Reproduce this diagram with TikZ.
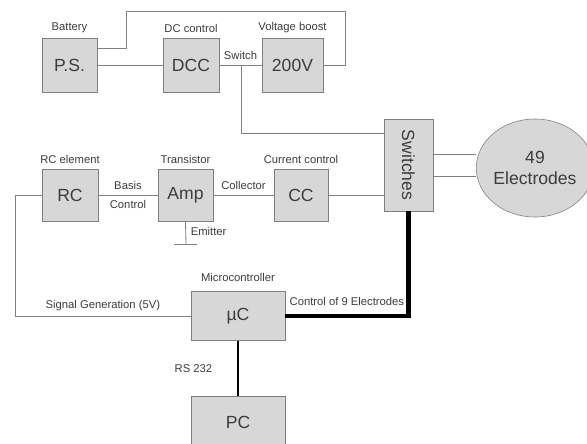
\documentclass[tikz,border=0pt]{standalone}
\usepackage{fontspec}
\setmainfont{Liberation Sans}
\usetikzlibrary{positioning, shapes.geometric}
\definecolor{boxgray}{HTML}{D7D7D7}
\definecolor{linegray}{HTML}{7F7F7F}
\definecolor{textgray}{HTML}{3C3C3C}

\begin{document}
\begin{tikzpicture}[x=0.025cm, y=-0.025cm,
    block/.style={draw=linegray, fill=boxgray, text=textgray, inner sep=0pt,
        font=\fontsize{12.5}{15}\selectfont},
    tag/.style={text=textgray, font=\fontsize{8}{10}\selectfont},
    wire/.style={draw=linegray, line width=0.6pt},
    bus/.style={draw=black, line width=3.5pt},
    serial/.style={draw=black, line width=2pt}]

    % Frame of the picture
    \useasboundingbox (0,0) rectangle (587,443);

    % Power supply row
    \node[block, minimum width=1.375cm, minimum height=1.35cm,
        label={[tag]above:Battery}] (ps) at (69.5,65) {P.S.};
    \node[block, minimum width=1.4cm, minimum height=1.35cm,
        label={[tag]above:DC control}] (dcc) at (191,65) {DCC};
    \node[block, minimum width=1.525cm, minimum height=1.35cm,
        label={[tag]above:Voltage boost}] (boost) at (292.5,65) {200V};

    % Driver row
    \node[block, minimum width=1.4cm, minimum height=1.3cm,
        label={[tag]above:RC element}] (rc) at (70,195) {RC};
    \node[block, minimum width=1.375cm, minimum height=1.3cm,
        label={[tag]above:Transistor}] (amp) at (185.5,195) {Amp};
    \node[block, minimum width=1.35cm, minimum height=1.3cm,
        label={[tag]above:Current control}] (cc) at (301,195) {CC};

    % Switches and electrodes
    \node[block, minimum width=1.225cm, minimum height=2.3cm] (sw) at (408.5,165) {\rotatebox{-90}{Switches}};
    \node[block, ellipse, align=center, minimum width=2.6cm, minimum height=2.45cm] (elec) at (535,168) {49\\Electrodes};

    % Microcontroller and PC
    \node[block, minimum width=2.35cm, minimum height=1.225cm,
        label={[tag, label distance=3.5pt]above:Microcontroller}] (uc) at (238,316) {µC};
    \node[block, minimum width=2.35cm, minimum height=1.3cm] (pc) at (238,422) {PC};

    % Bends of the wires
    \coordinate (t1) at (126,11);
    \coordinate (t2) at (345,11);
    \coordinate (tap) at (241,65);
    \coordinate (rcl) at (15,195);
    \coordinate (gnd) at (186,244);

    % Supply wiring
    \draw[wire] ([yshift=0.425cm]ps.east) -| (t1) -- (t2) |- (boost.east);
    \draw[wire] (ps) -- (dcc);
    \draw[wire] (dcc) -- node[tag, above] {Switch} (boost);
    \draw[wire] (tap) |- ([yshift=-0.375cm]sw.north west);

    % Driver wiring
    \draw[wire] (rc) -- node[tag, above] {Basis} node[tag, below] {Control} (amp);
    \draw[wire] (amp) -- node[tag, above] {Collector} (cc);
    \draw[wire] (cc.east) -- (cc.east -| sw.west);
    \draw[wire] (amp.south) -- (gnd) node[tag, anchor=west, pos=0.45] {Emitter};
    \draw[wire] ([xshift=-0.3cm]gnd) -- ([xshift=0.275cm]gnd);

    % Switches to electrodes
    \draw[wire] ([yshift=0.275cm]sw.east) -- ([yshift=0.275cm]sw.east -| elec.west);
    \draw[wire] ([yshift=-0.275cm]sw.east) -- ([yshift=-0.275cm]sw.east -| elec.west);

    % Microcontroller wiring
    \draw[wire] (rc.west) -- (rcl) |- node[tag, pos=0.75, above] {Signal Generation (5V)} (uc.west);
    \draw[bus] (uc.east) -| node[tag, pos=0.25, above=2pt] {Control of 9 Electrodes} (sw.south);
    \draw[serial] (uc) -- node[tag, left=14pt] {RS 232} (pc);

\end{tikzpicture}
\end{document}
